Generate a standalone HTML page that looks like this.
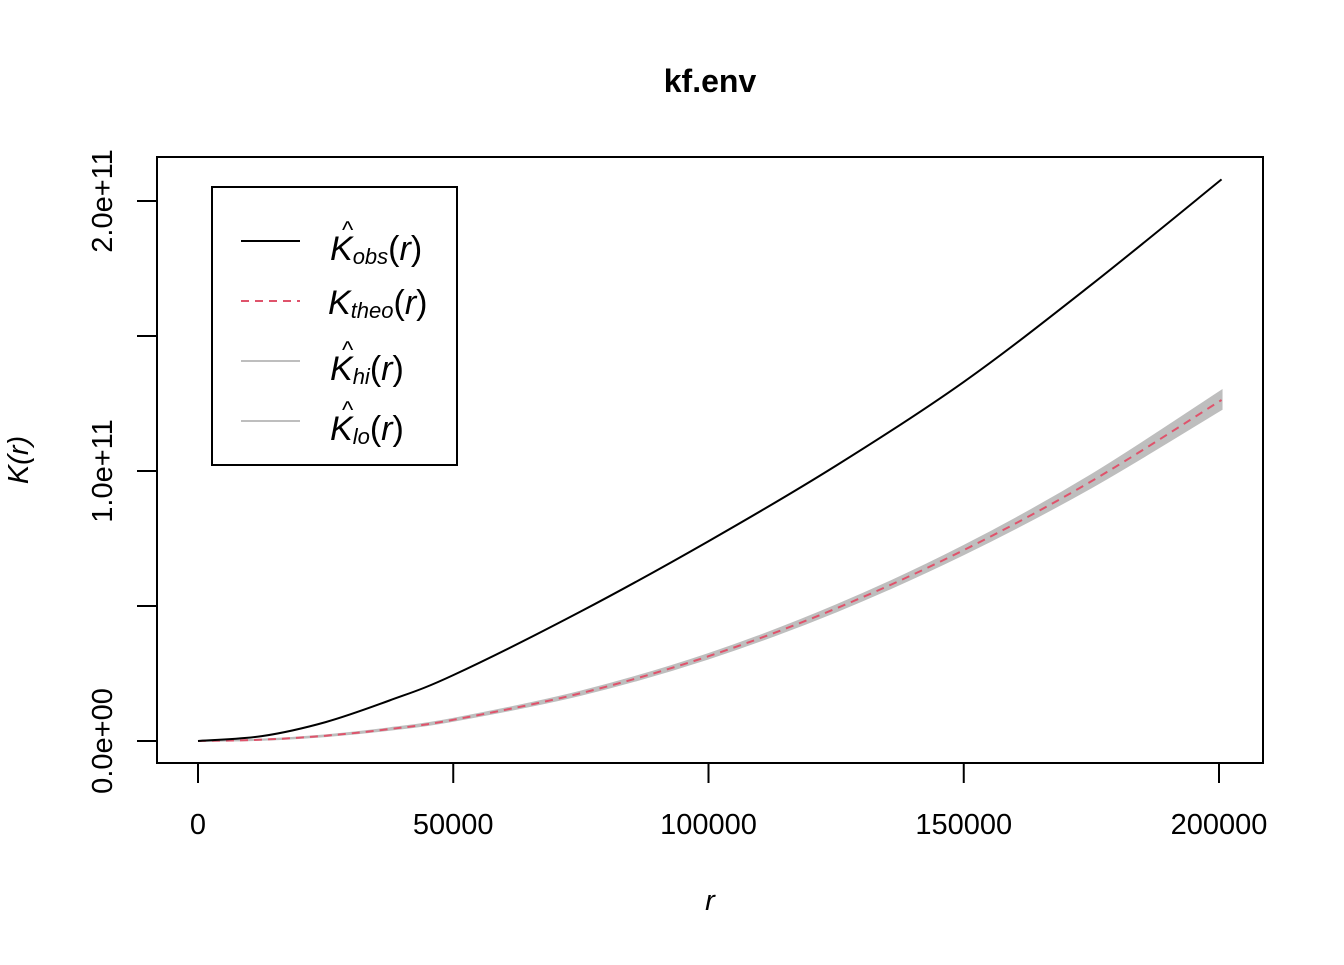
<!DOCTYPE html>
<html><head><meta charset="utf-8"><style>
body{margin:0;background:#fff}
svg text{font-family:"Liberation Sans",sans-serif}
</style></head><body>
<svg width="1344" height="960">
<text x="710" y="92" text-anchor="middle" font-size="32" font-weight="bold">kf.env</text>
<rect x="157" y="157" width="1106" height="606" fill="none" stroke="#000" stroke-width="2"/>
<g id="xaxis"></g>
<g id="yaxis"></g>
<text x="710" y="910" text-anchor="middle" font-size="29" font-style="italic">r</text>
<text transform="translate(28,460) rotate(-90)" text-anchor="middle" font-size="29" font-style="italic">K(r)</text>
<g id="series"></g>
<g>
<rect x="212" y="187" width="245" height="278" fill="#fff" stroke="#000" stroke-width="2"/>
<line x1="241" y1="241" x2="300" y2="241" stroke="#000" stroke-width="2"/>
<line x1="241" y1="301" x2="300" y2="301" stroke="#DF536B" stroke-width="2" stroke-dasharray="8,6"/>
<line x1="241" y1="361" x2="300" y2="361" stroke="#bebebe" stroke-width="2"/>
<line x1="241" y1="421" x2="300" y2="421" stroke="#bebebe" stroke-width="2"/>
<g font-family="Liberation Serif,serif" font-size="34" font-style="italic">
<text x="330" y="260">K<tspan font-size="22" dy="4">obs</tspan><tspan dy="-4" font-style="normal">(</tspan>r<tspan font-style="normal">)</tspan></text>
<text x="342" y="238" font-size="24" font-style="normal">^</text>
<text x="328" y="314">K<tspan font-size="22" dy="4">theo</tspan><tspan dy="-4" font-style="normal">(</tspan>r<tspan font-style="normal">)</tspan></text>
<text x="330" y="380">K<tspan font-size="22" dy="4">hi</tspan><tspan dy="-4" font-style="normal">(</tspan>r<tspan font-style="normal">)</tspan></text>
<text x="342" y="358" font-size="24" font-style="normal">^</text>
<text x="330" y="440">K<tspan font-size="22" dy="4">lo</tspan><tspan dy="-4" font-style="normal">(</tspan>r<tspan font-style="normal">)</tspan></text>
<text x="342" y="418" font-size="24" font-style="normal">^</text>
</g></g>
</svg>
<script>
const rVals=[0,12500,25000,37500,50000,75000,100000,125000,150000,175000,200500];
const obsVals=[0,0.018,0.07,0.15,0.244,0.48,0.74,1.02,1.33,1.69,2.08];
const theoVals=[0,0.0049,0.0196,0.0442,0.0785,0.177,0.314,0.491,0.707,0.962,1.263];
const hiVals=[0,0.0053,0.021,0.047,0.082,0.183,0.322,0.502,0.722,0.985,1.297];
const loVals=[0,0.0045,0.018,0.0415,0.075,0.171,0.306,0.480,0.692,0.940,1.229];
const xTicks=[0,50000,100000,150000,200000];
const yTicks=[0,0.5,1,1.5,2];
const yTickLabels={0:"0.0e+00",1:"1.0e+11",2:"2.0e+11"};
const X=v=>198+v/50000*255.25, Y=v=>741-v*270;
const NS="http://www.w3.org/2000/svg";
function mk(t,a,p){const e=document.createElementNS(NS,t);for(const k in a)e.setAttribute(k,a[k]);p.appendChild(e);return e;}
function path(xs,ys){const P=xs.map((x,i)=>[X(x),Y(ys[i])]);let d="M"+P[0];for(let i=0;i<P.length-1;i++){const p0=P[Math.max(i-1,0)],p1=P[i],p2=P[i+1],p3=P[Math.min(i+2,P.length-1)];d+=` C${p1[0]+(p2[0]-p0[0])/6},${p1[1]+(p2[1]-p0[1])/6} ${p2[0]-(p3[0]-p1[0])/6},${p2[1]-(p3[1]-p1[1])/6} ${p2[0]},${p2[1]}`;}return d;}
const xa=document.getElementById('xaxis');
for(const t of xTicks){
 const l=mk('line',{x1:X(t),x2:X(t),y1:763,y2:783,stroke:'#000','stroke-width':2},xa);
 
 
 const tx=mk('text',{x:X(t),y:834,'text-anchor':'middle','font-size':29},xa);tx.textContent=t;
 
 
}
const ya=document.getElementById('yaxis');
for(const t of yTicks){
 const l=mk('line',{x1:137,x2:157,y1:Y(t),y2:Y(t),stroke:'#000','stroke-width':2},ya);
 
 
 if(yTickLabels[t]){const tx=mk('text',{transform:`translate(112,${Y(t)}) rotate(-90)`,'text-anchor':'middle','font-size':29},ya);tx.textContent=yTickLabels[t];
 
 }
}
const s=document.getElementById('series');
const band=mk('path',{d:path(rVals,hiVals)+" L"+path(rVals.slice().reverse(),loVals.slice().reverse()).slice(1)+"Z",fill:'#bebebe',stroke:'#bebebe','stroke-width':2},s);


const th=mk('path',{d:path(rVals,theoVals),fill:'none',stroke:'#DF536B','stroke-width':2,'stroke-dasharray':'8,6'},s);


const ob=mk('path',{d:path(rVals,obsVals),fill:'none',stroke:'#000','stroke-width':2},s);


</script>
</body></html>
